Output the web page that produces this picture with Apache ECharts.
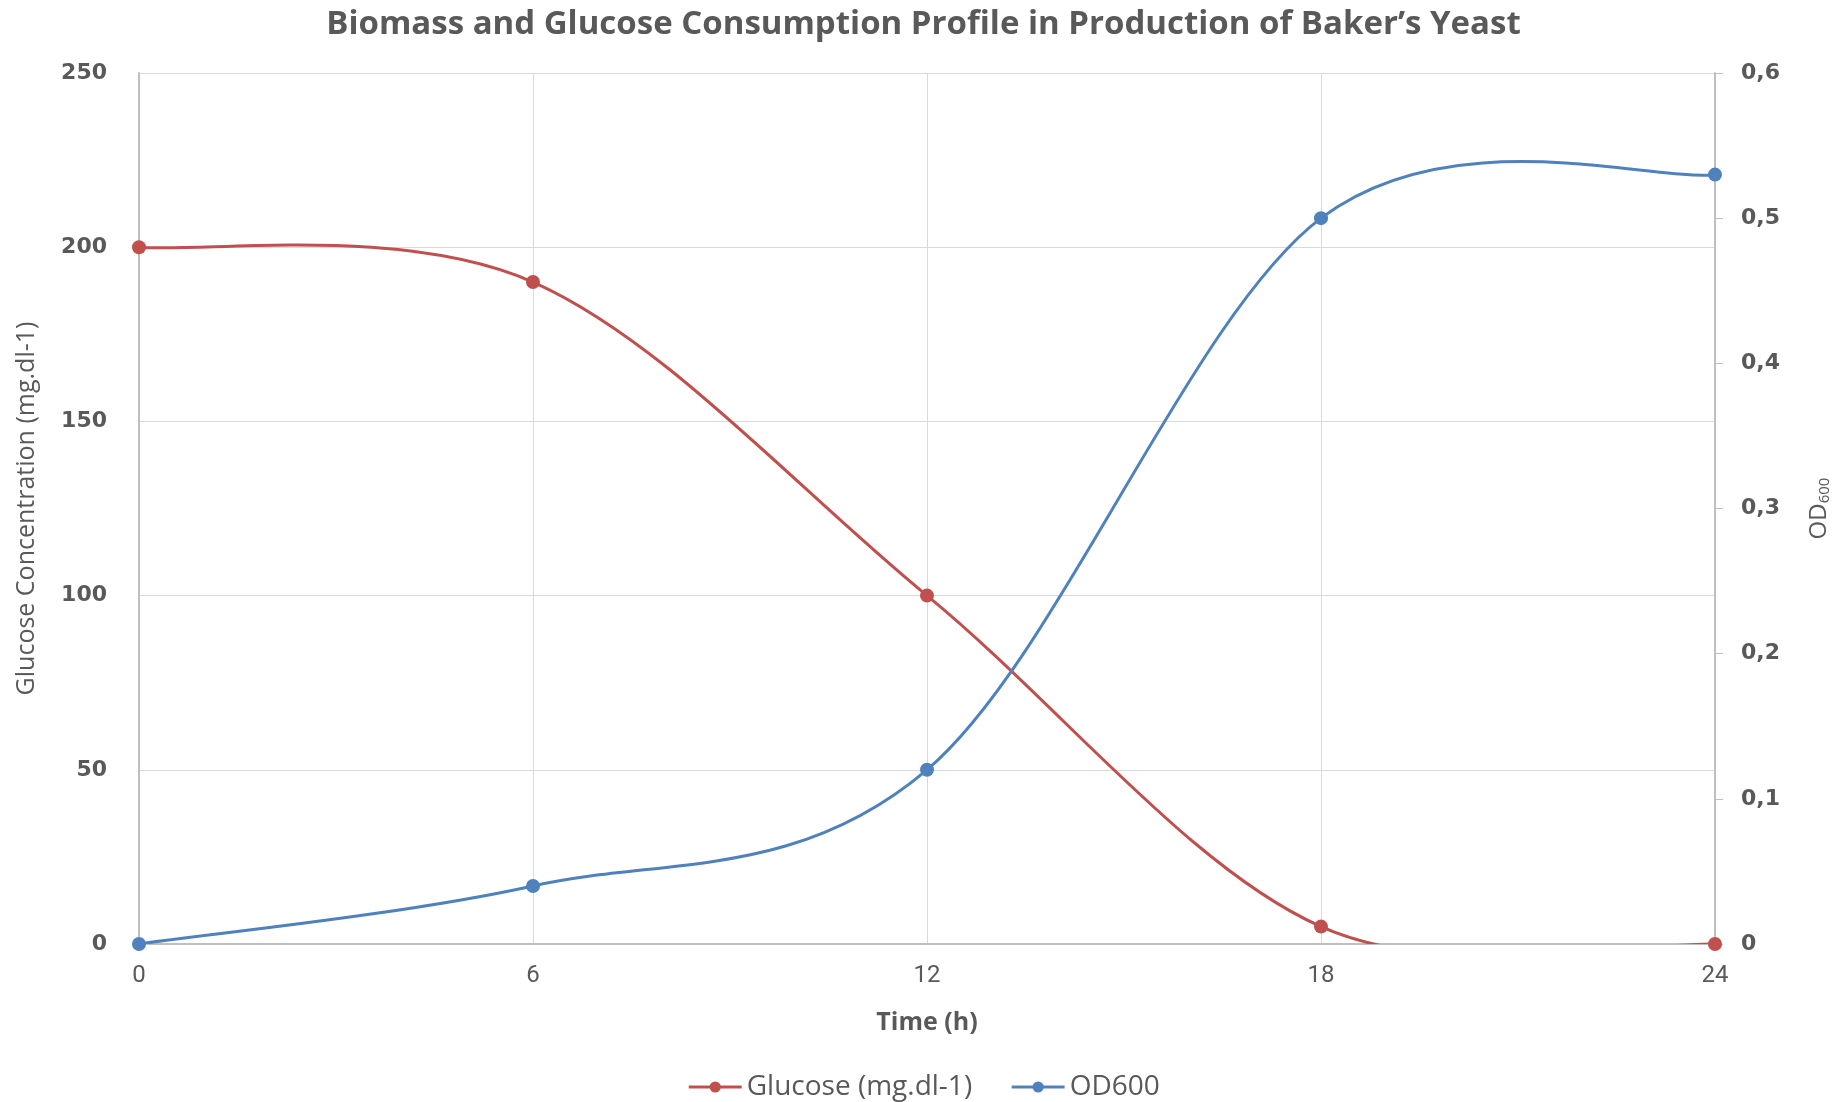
<!DOCTYPE html>
<html><head><meta charset="utf-8">
<script src="https://cdn.jsdelivr.net/npm/echarts@6/dist/echarts.min.js"></script>
<style>html,body{margin:0;padding:0;background:#fff}#c{width:1847px;height:1102px}</style>
</head><body><div id="c"></div>
<script>
const times = [0, 6, 12, 18, 24];
const glucose = [200, 190, 100, 5, 0];
const od600 = [0, 0.04, 0.12, 0.5, 0.53];
const leftTicks = [0, 50, 100, 150, 200, 250];
const rightTicks = [0, 0.1, 0.2, 0.3, 0.4, 0.5, 0.6];

const txt = '#595959';
const RED = '#C0504D', BLUE = '#4F81BD';

// Excel-style smoothed segment (Catmull-Rom Bezier) computed in pixel space via the axes
function smoothRenderer(vals, color) {
  return function (params, api) {
    const i = params.dataIndex, n = times.length;
    if (i >= n - 1) return null;
    const idx = [Math.max(i - 1, 0), i, i + 1, Math.min(i + 2, n - 1)];
    const p = idx.map(j => api.coord([times[j], vals[j]]));
    const cp1 = [p[1][0] + (p[2][0] - p[0][0]) / 6, p[1][1] + (p[2][1] - p[0][1]) / 6];
    const cp2 = [p[2][0] - (p[3][0] - p[1][0]) / 6, p[2][1] - (p[3][1] - p[1][1]) / 6];
    return {
      type: 'bezierCurve',
      shape: { x1: p[1][0], y1: p[1][1], x2: p[2][0], y2: p[2][1],
               cpx1: cp1[0], cpy1: cp1[1], cpx2: cp2[0], cpy2: cp2[1] },
      style: { stroke: color, lineWidth: 3, fill: null }
    };
  };
}

const chart = echarts.init(document.getElementById('c'));
chart.setOption({
  backgroundColor: '#fff',
  animation: false,
  title: {
    text: "Biomass and Glucose Consumption Profile in Production of Baker\u2019s Yeast",
    left: 'center', top: 3,
    textStyle: { fontFamily: 'Open Sans', fontWeight: 'bold', fontSize: 33, color: txt }
  },
  legend: {
    bottom: -4, left: 'center',
    itemWidth: 53, itemHeight: 14, itemGap: 38,
    textStyle: { fontFamily: 'Open Sans', fontSize: 28, color: txt },
    data: [
      { name: 'Glucose (mg.dl-1)', lineStyle: { color: RED, width: 3, opacity: 1 } },
      { name: 'OD600', lineStyle: { color: BLUE, width: 3, opacity: 1 } }
    ]
  },
  grid: { left: 139, right: 132, top: 73, bottom: 158 },
  xAxis: {
    type: 'value', min: 0, max: 24, interval: 6,
    name: 'Time (h)', nameLocation: 'middle', nameGap: 66,
    nameTextStyle: { fontFamily: 'Open Sans', fontWeight: 'bold', fontSize: 25, color: txt },
    axisLine: { lineStyle: { color: '#BFBFBF', width: 2 } },
    axisTick: { show: false },
    axisLabel: { fontFamily: 'Roboto', fontSize: 24, color: txt, margin: 20 },
    splitLine: { show: true, lineStyle: { color: '#D9D9D9', width: 1 } }
  },
  yAxis: [{
    type: 'value', min: 0, max: 250, interval: 50,
    name: 'Glucose Concentration (mg.dl-1)', nameLocation: 'middle', nameGap: 100, nameRotate: 90,
    nameTextStyle: { fontFamily: 'Open Sans', fontSize: 25, color: txt },
    axisLine: { show: true, lineStyle: { color: '#BFBFBF', width: 2 } },
    axisTick: { show: false },
    axisLabel: { fontFamily: 'DejaVu Sans', fontWeight: 'bold', fontSize: 22, color: txt, margin: 32,
      customValues: leftTicks },
    splitLine: { show: true, lineStyle: { color: '#D9D9D9', width: 1 } }
  }, {
    type: 'value', min: 0, max: 0.6, interval: 0.1, position: 'right',
    name: '{a|OD}{b|600}', nameLocation: 'middle', nameGap: 92, nameRotate: 90,
    nameTextStyle: { color: txt, rich: {
      a: { fontFamily: 'Open Sans', fontSize: 24, color: txt },
      b: { fontFamily: 'Open Sans', fontSize: 15, color: txt, padding: [10, 0, 0, 0] }
    } },
    axisLine: { show: true, lineStyle: { color: '#BFBFBF', width: 2 } },
    axisTick: { show: true, inside: false, length: 8, lineStyle: { color: '#BFBFBF', width: 1 } },
    axisLabel: { fontFamily: 'DejaVu Sans', fontWeight: 'bold', fontSize: 22, color: txt, margin: 26,
      customValues: rightTicks,
      formatter: v => String(Math.round(v * 10) / 10).replace('.', ',') },
    splitLine: { show: false }
  }],
  series: [{
    name: 'Glucose (mg.dl-1) curve', type: 'custom', yAxisIndex: 0, clip: true, z: 2,
    data: times.map((t, i) => [t, glucose[i]]),
    renderItem: smoothRenderer(glucose, RED)
  }, {
    name: 'OD600 curve', type: 'custom', yAxisIndex: 1, clip: true, z: 2,
    data: times.map((t, i) => [t, od600[i]]),
    renderItem: smoothRenderer(od600, BLUE)
  }, {
    name: 'Glucose (mg.dl-1)', type: 'line', yAxisIndex: 0, z: 3,
    data: times.map((t, i) => [t, glucose[i]]),
    symbol: 'circle', symbolSize: 14,
    itemStyle: { color: RED }, lineStyle: { color: RED, width: 3, opacity: 0 }
  }, {
    name: 'OD600', type: 'line', yAxisIndex: 1, z: 3,
    data: times.map((t, i) => [t, od600[i]]),
    symbol: 'circle', symbolSize: 14,
    itemStyle: { color: BLUE }, lineStyle: { color: BLUE, width: 3, opacity: 0 }
  }]
});
</script></body></html>
